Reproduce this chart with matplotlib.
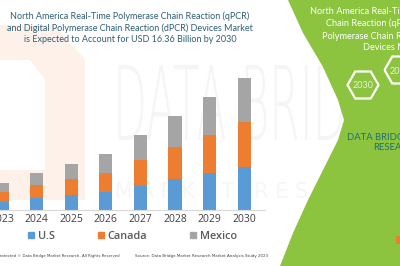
import numpy as np
import matplotlib.pyplot as plt
from matplotlib.patches import PathPatch, Polygon, Rectangle
from matplotlib.textpath import TextPath
from matplotlib.font_manager import FontProperties
from matplotlib.transforms import Affine2D
from matplotlib.lines import Line2D

# Data (USD billion)
years = ['2023', '2024', '2025', '2026', '2027', '2028', '2029', '2030']
us = [1.03, 1.53, 1.86, 2.24, 3.02, 3.85, 4.56, 5.38]
canada = [1.24, 1.54, 2.02, 2.40, 3.23, 3.94, 4.79, 5.55]
mexico = [1.12, 1.49, 1.86, 2.32, 3.03, 3.85, 4.65, 5.43]
series_names = ['U.S', 'Canada', 'Mexico']
colors = ['#5b9bd5', '#ed7d31', '#a5a5a5']

title = ('North America Real-Time Polymerase Chain Reaction (qPCR)\n'
         'and Digital Polymerase Chain Reaction (dPCR) Devices Market\n'
         'is Expected to Account for USD 16.36 Billion by 2030')
panel_lines = ['North America Real-Time Polymerase',
               'Chain Reaction (qPCR) and Digital',
               'Polymerase Chain Reaction (dPCR)',
               'Devices Market']

W, H = 400, 266
fig = plt.figure(figsize=(W / 100, H / 100), dpi=100)

# background layer in pixel coordinates (y down)
bg = fig.add_axes([0, 0, 1, 1], zorder=0)
bg.set_xlim(0, W)
bg.set_ylim(H, 0)
bg.axis('off')

# faint logo / watermark
bg.add_patch(Polygon([(0, 25), (55, 25), (85, 60), (85, 200), (0, 200)],
                     closed=True, fc='#fdf1ea', ec='none', zorder=0.1))
bg.add_patch(Polygon([(0, 60), (30, 60), (45, 80), (45, 170), (0, 170)],
                     closed=True, fc='white', ec='none', zorder=0.2))
tp = TextPath((0, 0), 'DATA BRIDGE', size=1,
              prop=FontProperties(family='DejaVu Sans', weight='light'))
tp = Affine2D().scale(44, -103).translate(113, 140).transform_path(tp)
bg.add_patch(PathPatch(tp, fc='#f5f5f5', ec='none', zorder=0.3))
bg.text(115, 198, 'M A R K E T   R E S E A R C H', fontsize=15, color='#f6f6f6',
        family='DejaVu Sans', va='baseline', ha='left', zorder=0.3)

# green side panel
edge = [(288, 0), (303, 33), (323, 67), (338, 100), (344, 120), (338, 140),
        (325, 166), (308, 200), (293, 233), (280, 266)]
bg.add_patch(Polygon(edge + [(W, H), (W, 0)], closed=True, fc='#8cc43f',
                     ec='none', zorder=1))

ys = [11, 23, 36, 47]
xs = [310, 326, 322, 363]
for txt, x, y in zip(panel_lines, xs, ys):
    bg.text(x, y, txt, fontsize=6.6, color='white', family='Lato',
            ha='left', va='center', zorder=3)


def hexagon(cx, cy, w, h):
    return [(cx - w / 2, cy), (cx - w / 4, cy - h / 2), (cx + w / 4, cy - h / 2),
            (cx + w / 2, cy), (cx + w / 4, cy + h / 2), (cx - w / 4, cy + h / 2)]


for cx, cy, lab in [(363, 85, '2030'), (400, 70, '2030')]:
    bg.add_patch(Polygon(hexagon(cx, cy, 31, 27), closed=True, fc='none',
                         ec='white', lw=1.6, zorder=2))
    bg.text(cx, cy + 1, lab, fontsize=6.5, color='#e8f2d8', family='Lato',
            ha='center', va='center', zorder=3)

bg.text(347, 137, 'DATA BRIDGE MARKET', fontsize=6.8, color='#1f6f7a',
        family='Lato', ha='left', va='center', zorder=3)
bg.text(373, 148, 'RESEARCH', fontsize=6.8, color='#1f6f7a',
        family='Lato', ha='left', va='center', zorder=3)
bg.add_patch(Rectangle((396, 236), 4, 8, fc='#ed7d31', ec='none', zorder=2))

# title
bg.text(130, 27.5, title, fontsize=6.5, color='#2f5f74', family='Lato',
        ha='center', va='center', linespacing=1.3, zorder=3)

# footer
bg.text(120, 256, 'Copyrights Protected \u00a9 Data Bridge Market Research- All Rights Reserved',
        fontsize=2.75, color='#404040', ha='right', va='center', zorder=3)
bg.text(135, 256, 'Source: Data Bridge Market Research Market Analysis Study 2023',
        fontsize=2.85, color='#404040', ha='left', va='center', zorder=3)

# chart
x = np.arange(len(years))
ax = fig.add_axes([0, 56 / H, 265 / W, 150 / H], zorder=1)
ax.patch.set_alpha(0)
bottom = np.zeros(len(years))
for vals, name, c in zip([us, canada, mexico], series_names, colors):
    ax.bar(x, vals, width=0.38, bottom=bottom, color=c, label=name)
    bottom += np.array(vals)

ax.set_xlim(-2 / 34.6, 263 / 34.6)
ax.set_ylim(0, 150 * 16.36 / 131.7)
ax.set_xticks(x)
ax.set_xticklabels(years, fontsize=7.5, color='#404040', family='Open Sans')
ax.tick_params(axis='x', length=0, pad=3)
ax.set_yticks([])
for s in ['top', 'right', 'left']:
    ax.spines[s].set_visible(False)
ax.spines['bottom'].set_color('#d9d9d9')
ax.spines['bottom'].set_linewidth(0.8)

handles = [Line2D([], [], ls='none', marker='s', markersize=4.3, color=c)
           for c in colors]
fig.legend(handles, series_names, loc='center left', bbox_to_anchor=(28 / W, 1 - 236.5 / H),
           ncol=3, frameon=False, handlelength=0.6, handletextpad=0.35,
           columnspacing=3.9, borderpad=0, borderaxespad=0,
           prop={'family': 'Open Sans', 'size': 7.8, 'weight': 'semibold'},
           labelcolor='#595959')

fig.savefig('out.png', dpi=100)
